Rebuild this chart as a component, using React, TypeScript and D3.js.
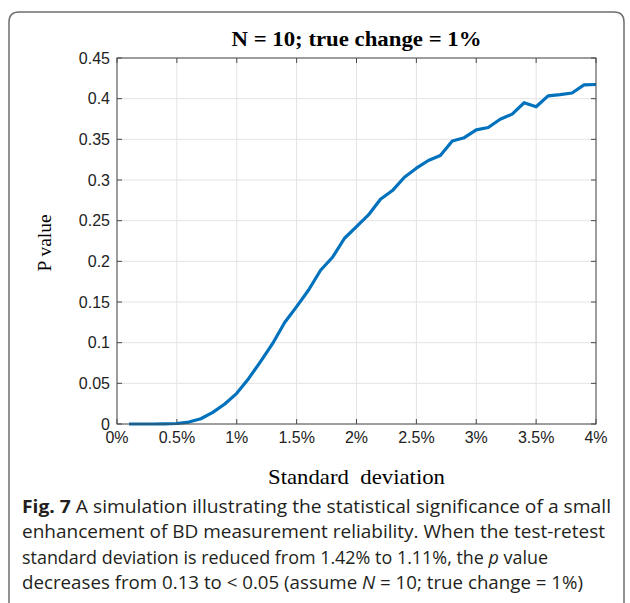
import * as d3 from 'd3'

// standard deviation (%) and simulated P value
const sdPercent = [
  0.1, 0.2, 0.3, 0.4, 0.5, 0.6, 0.7, 0.8, 0.9, 1.0,
  1.1, 1.2, 1.3, 1.4, 1.5, 1.6, 1.7, 1.8, 1.9, 2.0,
  2.1, 2.2, 2.3, 2.4, 2.5, 2.6, 2.7, 2.8, 2.9, 3.0,
  3.1, 3.2, 3.3, 3.4, 3.5, 3.6, 3.7, 3.8, 3.9, 4.0,
]
const pValues = [
  0.0, 0.0, 0.0, 0.0002, 0.0006, 0.0024, 0.0065, 0.0143, 0.0246, 0.0377,
  0.056, 0.077, 0.099, 0.1247, 0.1443, 0.1648, 0.189, 0.205, 0.2284, 0.2427,
  0.257, 0.2764, 0.287, 0.3034, 0.3145, 0.324, 0.33, 0.348, 0.352, 0.3616,
  0.3645, 0.3747, 0.381, 0.395, 0.39, 0.4034, 0.405, 0.407, 0.417, 0.4174,
]
const xTicks = [0, 0.5, 1, 1.5, 2, 2.5, 3, 3.5, 4]
const xTickLabels = ['0%', '0.5%', '1%', '1.5%', '2%', '2.5%', '3%', '3.5%', '4%']
const yTicks = [0, 0.05, 0.1, 0.15, 0.2, 0.25, 0.3, 0.35, 0.4, 0.45]
const yTickLabels = ['0', '0.05', '0.1', '0.15', '0.2', '0.25', '0.3', '0.35', '0.4', '0.45']

const title = 'N = 10; true change = 1%'
const xTitle = 'Standard  deviation'
const yTitle = 'P value'

const W = 630
const H = 603
const plot = { left: 117, right: 596, top: 58, bottom: 424 }

const axisColor = '#4a4a4a'
const gridColor = '#e3e3e3'
const lineColor = '#0072BD'
const sans = "'Liberation Sans', Arial, sans-serif"
const serif = "'Liberation Serif', 'Times New Roman', serif"
const capFont = "'Open Sans', 'Noto Sans', sans-serif"

export default function App() {
  const x = d3.scaleLinear().domain([0, 4]).range([plot.left, plot.right])
  const y = d3.scaleLinear().domain([0, 0.45]).range([plot.bottom, plot.top])

  const line = d3.line<number>()
    .x((d, i) => x(sdPercent[i]))
    .y(d => y(d))
  const tick = 5

  const r = 10
  const frame = `M9,${H + 10} L9,${12 + r} Q9,12 ${9 + r},12 L${624 - r},12 Q624,12 624,${12 + r} L624,${H + 10}`

  return (
    <svg width={W} height={H} style={{ position: 'absolute', left: 0, top: 0, background: '#fff' }}>
      <path d={frame} fill="none" stroke="#6e6e6e" strokeWidth={1.5} />

      <text x={(plot.left + plot.right) / 2} y={46} textAnchor="middle" fontFamily={serif}
        fontWeight="bold" fontSize={21} textLength={250} lengthAdjust="spacingAndGlyphs" fill="#000">
        {title}
      </text>

      {/* grid */}
      {xTicks.map(t => (
        <line key={'gx' + t} x1={x(t)} x2={x(t)} y1={plot.top} y2={plot.bottom} stroke={gridColor} strokeWidth={1} />
      ))}
      {yTicks.map(t => (
        <line key={'gy' + t} x1={plot.left} x2={plot.right} y1={y(t)} y2={y(t)} stroke={gridColor} strokeWidth={1} />
      ))}

      {/* inward ticks on all four sides */}
      {xTicks.map(t => (
        <g key={'tx' + t} stroke={axisColor} strokeWidth={1}>
          <line x1={x(t)} x2={x(t)} y1={plot.bottom} y2={plot.bottom - tick} />
          <line x1={x(t)} x2={x(t)} y1={plot.top} y2={plot.top + tick} />
        </g>
      ))}
      {yTicks.map(t => (
        <g key={'ty' + t} stroke={axisColor} strokeWidth={1}>
          <line x1={plot.left} x2={plot.left + tick} y1={y(t)} y2={y(t)} />
          <line x1={plot.right} x2={plot.right - tick} y1={y(t)} y2={y(t)} />
        </g>
      ))}

      <path d={line(pValues) || ''} fill="none" stroke={lineColor} strokeWidth={3.2}
        strokeLinejoin="round" strokeLinecap="butt" />

      <rect x={plot.left} y={plot.top} width={plot.right - plot.left} height={plot.bottom - plot.top}
        fill="none" stroke={axisColor} strokeWidth={1} />

      {yTicks.map((t, i) => (
        <text key={'ly' + t} x={plot.left - 7} y={y(t)} dy="0.36em" textAnchor="end"
          fontFamily={sans} fontSize={16} fill="#222">{yTickLabels[i]}</text>
      ))}
      {xTicks.map((t, i) => (
        <text key={'lx' + t} x={x(t)} y={443} textAnchor="middle"
          fontFamily={sans} fontSize={16} fill="#222">{xTickLabels[i]}</text>
      ))}

      <text x={(plot.left + plot.right) / 2} y={484} textAnchor="middle" fontFamily={serif}
        fontSize={22} textLength={177} lengthAdjust="spacingAndGlyphs" xmlSpace="preserve" fill="#000">
        {xTitle}
      </text>
      <text transform={`translate(51, ${(plot.top + plot.bottom) / 2 + 2}) rotate(-90)`} textAnchor="middle"
        fontFamily={serif} fontSize={18} textLength={57} lengthAdjust="spacingAndGlyphs" fill="#000">
        {yTitle}
      </text>

      {/* caption */}
      <g fontFamily={capFont} fontSize={18} fill="#231f20">
        <text x={22} y={513} textLength={589} lengthAdjust="spacingAndGlyphs">
          <tspan fontWeight="bold">Fig. 7</tspan>{'  A simulation illustrating the statistical significance of a small'}
        </text>
        <text x={22} y={538} textLength={583} lengthAdjust="spacingAndGlyphs">
          enhancement of BD measurement reliability. When the test-retest
        </text>
        <text x={22} y={564} textLength={526} lengthAdjust="spacingAndGlyphs">
          {'standard deviation is reduced from 1.42% to 1.11%, the '}<tspan fontStyle="italic">p</tspan>{' value'}
        </text>
        <text x={22} y={589} textLength={561} lengthAdjust="spacingAndGlyphs">
          {'decreases from 0.13 to < 0.05 (assume '}<tspan fontStyle="italic">N</tspan>{' = 10; true change = 1%)'}
        </text>
      </g>
    </svg>
  )
}
